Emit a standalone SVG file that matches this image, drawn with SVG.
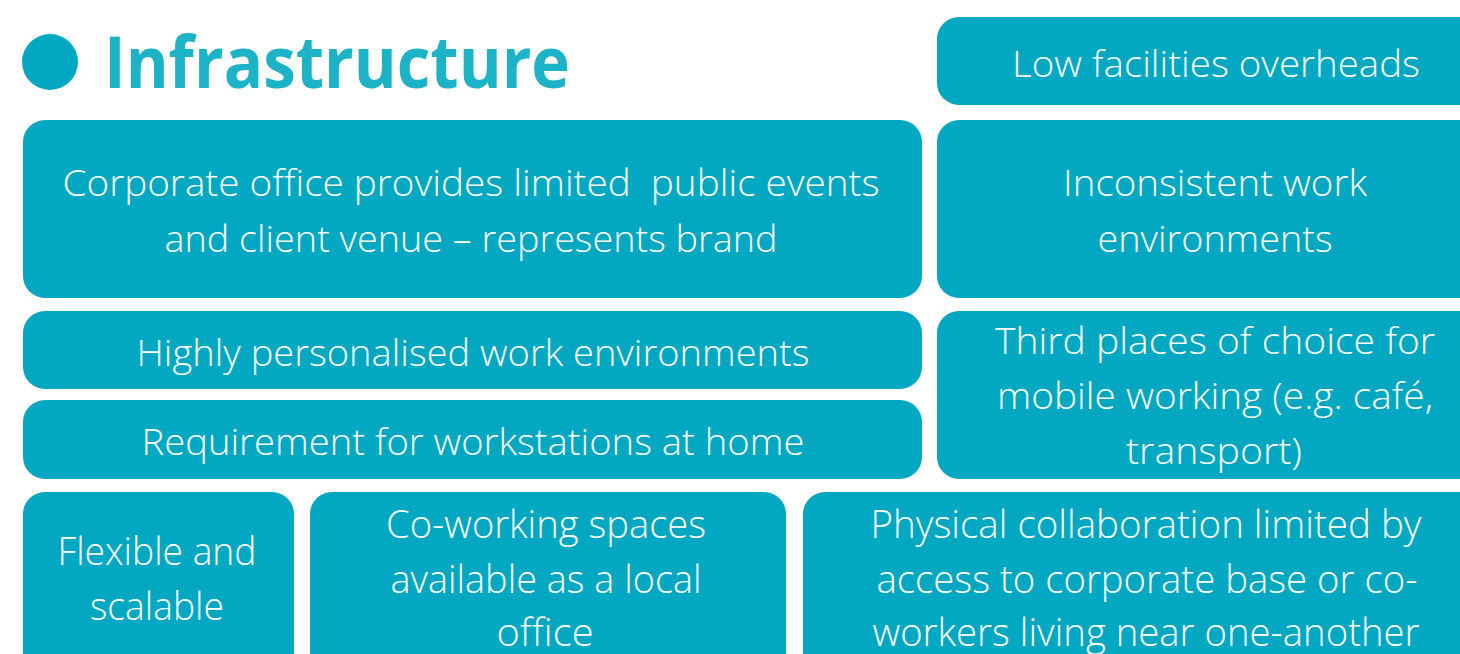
<svg xmlns="http://www.w3.org/2000/svg" width="1460" height="654" viewBox="0 0 1460 654">
<style>
.box{fill:#02a8c1;}
.t{font-family:"Open Sans","Liberation Sans",sans-serif;font-weight:300;font-size:37px;fill:#ffffff;text-anchor:middle;}
.tb{font-family:"Open Sans","Liberation Sans",sans-serif;font-weight:300;font-size:39px;fill:#ffffff;text-anchor:middle;}
.title{font-family:"Open Sans","Liberation Sans",sans-serif;font-weight:700;font-size:72px;fill:#1bb3c5;}
</style>
<rect x="0" y="0" width="1460" height="654" fill="#ffffff"/>
<g id="header">
<circle cx="50" cy="62" r="28" fill="#02a8c1"/>
<text class="title" x="104" y="88" textLength="466" lengthAdjust="spacingAndGlyphs">Infrastructure</text>
</g>
<g id="low-facilities">
<rect class="box" x="937" y="17" width="560" height="88" rx="22"/>
<text class="t" x="1216" y="77" textLength="408" lengthAdjust="spacingAndGlyphs">Low facilities overheads</text>
</g>
<g id="corporate-office">
<rect class="box" x="23" y="120" width="899" height="178" rx="22"/>
<text class="t" x="471" y="196" textLength="817" lengthAdjust="spacingAndGlyphs" xml:space="preserve">Corporate office provides limited  public events</text>
<text class="t" x="471" y="252" textLength="613" lengthAdjust="spacingAndGlyphs">and client venue – represents brand</text>
</g>
<g id="inconsistent">
<rect class="box" x="937" y="120" width="560" height="178" rx="22"/>
<text class="t" x="1215" y="196" textLength="304" lengthAdjust="spacingAndGlyphs">Inconsistent work</text>
<text class="t" x="1215" y="252" textLength="235" lengthAdjust="spacingAndGlyphs">environments</text>
</g>
<g id="personalised">
<rect class="box" x="23" y="311" width="899" height="78" rx="22"/>
<text class="t" x="473" y="366" textLength="673" lengthAdjust="spacingAndGlyphs">Highly personalised work environments</text>
</g>
<g id="workstations">
<rect class="box" x="23" y="400" width="899" height="79" rx="22"/>
<text class="t" x="473" y="455" textLength="663" lengthAdjust="spacingAndGlyphs">Requirement for workstations at home</text>
</g>
<g id="third-places">
<rect class="box" x="937" y="311" width="560" height="168" rx="22"/>
<text class="t" x="1215" y="354" textLength="440" lengthAdjust="spacingAndGlyphs">Third places of choice for</text>
<text class="t" x="1215" y="409" textLength="436" lengthAdjust="spacingAndGlyphs">mobile working (e.g. café,</text>
<text class="t" x="1214" y="464" textLength="176" lengthAdjust="spacingAndGlyphs">transport)</text>
</g>
<g id="flexible">
<rect class="box" x="23" y="492" width="271" height="200" rx="22"/>
<text class="tb" x="157" y="565" textLength="199" lengthAdjust="spacingAndGlyphs">Flexible and</text>
<text class="tb" x="157" y="620" textLength="134" lengthAdjust="spacingAndGlyphs">scalable</text>
</g>
<g id="co-working">
<rect class="box" x="310" y="492" width="476" height="200" rx="22"/>
<text class="tb" x="546" y="538" textLength="320" lengthAdjust="spacingAndGlyphs">Co-working spaces</text>
<text class="tb" x="546" y="593" textLength="311" lengthAdjust="spacingAndGlyphs">available as a local</text>
<text class="tb" x="545" y="646" textLength="97" lengthAdjust="spacingAndGlyphs">office</text>
</g>
<g id="physical">
<rect class="box" x="803" y="492" width="700" height="200" rx="22"/>
<text class="tb" x="1146" y="538" textLength="551" lengthAdjust="spacingAndGlyphs">Physical collaboration limited by</text>
<text class="tb" x="1147" y="593" textLength="541" lengthAdjust="spacingAndGlyphs">access to corporate base or co-</text>
<text class="tb" x="1146" y="646" textLength="547" lengthAdjust="spacingAndGlyphs">workers living near one-another</text>
</g>
<g id="connectors"></g>
</svg>
